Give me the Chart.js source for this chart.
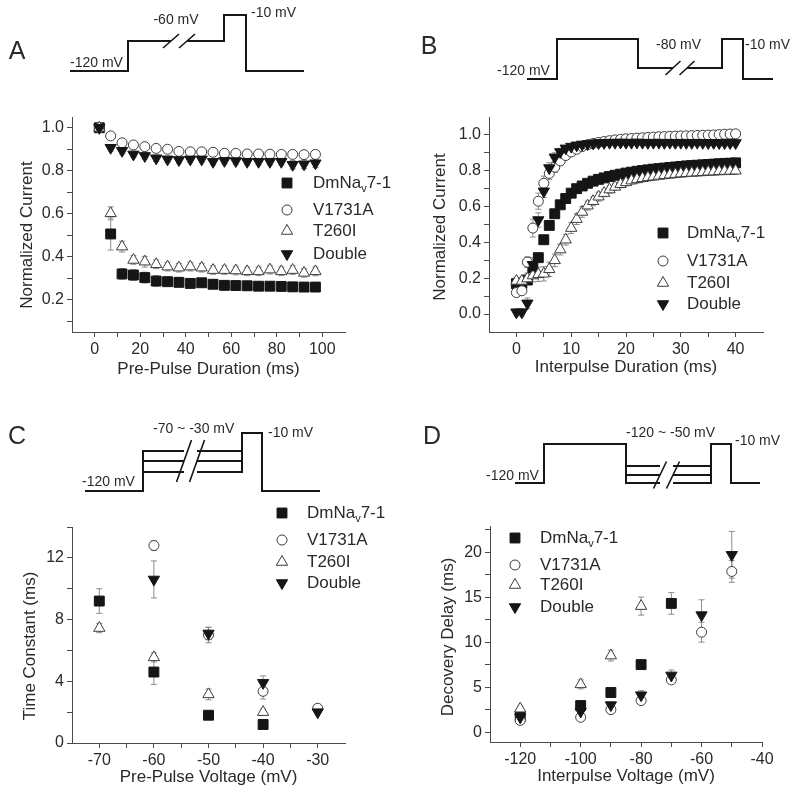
<!DOCTYPE html>
<html>
<head>
<meta charset="utf-8">
<script src="https://cdn.jsdelivr.net/npm/chart.js@4.4.1/dist/chart.umd.min.js"></script>
<style>
  body { margin: 0; background: #fff; }
  #fig { position: relative; width: 800px; height: 795px; overflow: hidden; }
  canvas { position: absolute; }
</style>
</head>
<body>
<div id="fig">
  <canvas id="cA" width="400" height="400" style="left:0;top:0"></canvas>
  <canvas id="cB" width="400" height="400" style="left:400px;top:0"></canvas>
  <canvas id="cC" width="400" height="395" style="left:0;top:400px"></canvas>
  <canvas id="cD" width="400" height="395" style="left:400px;top:400px"></canvas>
  <canvas id="pA" width="400" height="110" style="left:0;top:0"></canvas>
  <canvas id="pB" width="400" height="110" style="left:400px;top:0"></canvas>
  <canvas id="pC" width="400" height="110" style="left:0;top:400px"></canvas>
  <canvas id="pD" width="400" height="110" style="left:400px;top:400px"></canvas>
</div>
<script>
// --- DATA ---
const SERIES = ["DmNa_{v}7-1", "V1731A", "T260I", "Double"];

// A: pre-pulse duration (ms) vs normalized current
const aDur = [2, 7, 12, 17, 22, 27, 32, 37, 42, 47, 52, 57, 62, 67, 72, 77, 82, 87, 92, 97];
const aWT = [1.0, 0.506, 0.32, 0.315, 0.303, 0.287, 0.284, 0.281, 0.276, 0.279, 0.272, 0.267, 0.266, 0.265, 0.263, 0.263, 0.262, 0.26, 0.259, 0.259];
const aV = [1.0, 0.962, 0.93, 0.92, 0.912, 0.904, 0.9, 0.89, 0.888, 0.888, 0.886, 0.881, 0.881, 0.878, 0.878, 0.877, 0.876, 0.876, 0.875, 0.876];
const aT = [1.0, 0.602, 0.447, 0.385, 0.377, 0.365, 0.354, 0.349, 0.354, 0.349, 0.338, 0.338, 0.336, 0.332, 0.332, 0.34, 0.332, 0.338, 0.325, 0.332];
const aD = [1.0, 0.907, 0.893, 0.876, 0.869, 0.858, 0.853, 0.85, 0.853, 0.853, 0.842, 0.846, 0.845, 0.842, 0.842, 0.842, 0.842, 0.828, 0.83, 0.835];
const aWTe = [0, 0.075, 0.025, 0.025, 0.025, 0.025, 0.02, 0.02, 0.02, 0.02, 0.02, 0.02, 0.02, 0.02, 0.02, 0.02, 0.02, 0.02, 0.02, 0.02];
const aVe = [0, 0.01, 0.01, 0.01, 0.01, 0.01, 0.01, 0.01, 0.01, 0.01, 0.01, 0.01, 0.01, 0.01, 0.01, 0.01, 0.01, 0.01, 0.01, 0.01];
const aTe = [0, 0.03, 0.025, 0.02, 0.025, 0.02, 0.02, 0.02, 0.02, 0.02, 0.02, 0.02, 0.02, 0.02, 0.02, 0.02, 0.02, 0.02, 0.02, 0.02];
const aDe = [0, 0.015, 0.015, 0.015, 0.015, 0.015, 0.015, 0.015, 0.015, 0.015, 0.015, 0.015, 0.015, 0.015, 0.015, 0.015, 0.015, 0.02, 0.02, 0.02];

// B: interpulse duration (ms) vs normalized current
const bDur = [0, 1, 2, 3, 4, 5, 6, 7, 8, 9, 10, 11, 12, 13, 14, 15, 16, 17, 18, 19, 20, 21, 22, 23, 24, 25, 26, 27, 28, 29, 30, 31, 32, 33, 34, 35, 36, 37, 38, 39, 40];
const bWT = [0.17, 0.17, 0.19, 0.26, 0.315, 0.415, 0.495, 0.56, 0.61, 0.645, 0.675, 0.70, 0.715, 0.73, 0.742, 0.752, 0.76, 0.768, 0.775, 0.781, 0.787, 0.792, 0.797, 0.801, 0.805, 0.809, 0.812, 0.815, 0.818, 0.821, 0.824, 0.827, 0.829, 0.831, 0.833, 0.835, 0.837, 0.839, 0.841, 0.842, 0.844];
const bV = [0.12, 0.13, 0.29, 0.48, 0.63, 0.73, 0.785, 0.82, 0.855, 0.885, 0.905, 0.92, 0.935, 0.945, 0.952, 0.958, 0.963, 0.968, 0.972, 0.975, 0.978, 0.98, 0.982, 0.984, 0.986, 0.988, 0.99, 0.991, 0.992, 0.993, 0.994, 0.995, 0.996, 0.997, 0.998, 0.999, 1.0, 1.002, 1.004, 1.005, 1.006];
const bT = [0.185, 0.185, 0.198, 0.215, 0.222, 0.225, 0.25, 0.30, 0.36, 0.415, 0.48, 0.53, 0.57, 0.605, 0.63, 0.655, 0.675, 0.695, 0.71, 0.725, 0.735, 0.745, 0.752, 0.758, 0.763, 0.767, 0.771, 0.775, 0.778, 0.781, 0.784, 0.786, 0.788, 0.79, 0.792, 0.794, 0.795, 0.797, 0.798, 0.799, 0.80];
const bD = [0.01, 0.01, 0.06, 0.275, 0.525, 0.685, 0.815, 0.875, 0.905, 0.925, 0.935, 0.942, 0.947, 0.95, 0.953, 0.955, 0.956, 0.957, 0.957, 0.958, 0.957, 0.957, 0.958, 0.957, 0.956, 0.957, 0.957, 0.956, 0.957, 0.956, 0.957, 0.956, 0.956, 0.957, 0.956, 0.955, 0.956, 0.955, 0.955, 0.955, 0.955];
const bWTe = [0.01, 0.01, 0.02, 0.02, 0.02, 0.02, 0.02, 0.02, 0.02, 0.02, 0.015, 0.015, 0.015, 0.015, 0.015, 0.015, 0.015, 0.015, 0.015, 0.015, 0.015, 0.015, 0.015, 0.015, 0.015, 0.015, 0.015, 0.015, 0.015, 0.015, 0.015, 0.015, 0.015, 0.015, 0.015, 0.015, 0.015, 0.015, 0.015, 0.015, 0.015];
const bVe = [0.02, 0.02, 0.03, 0.05, 0.045, 0.04, 0.035, 0.03, 0.025, 0.02, 0.02, 0.015, 0.015, 0.015, 0.015, 0.015, 0.015, 0.015, 0.015, 0.015, 0.015, 0.015, 0.015, 0.015, 0.015, 0.015, 0.015, 0.015, 0.015, 0.015, 0.015, 0.015, 0.015, 0.015, 0.015, 0.015, 0.015, 0.015, 0.015, 0.015, 0.015];
const bTe = [0.02, 0.02, 0.03, 0.035, 0.04, 0.04, 0.04, 0.035, 0.03, 0.03, 0.03, 0.03, 0.03, 0.025, 0.025, 0.025, 0.02, 0.02, 0.02, 0.02, 0.02, 0.02, 0.02, 0.02, 0.02, 0.02, 0.02, 0.02, 0.02, 0.02, 0.02, 0.02, 0.02, 0.02, 0.02, 0.02, 0.02, 0.02, 0.02, 0.02, 0.02];
const bDe = [0.02, 0.02, 0.03, 0.04, 0.04, 0.035, 0.03, 0.025, 0.02, 0.015, 0.015, 0.015, 0.015, 0.015, 0.015, 0.015, 0.015, 0.015, 0.015, 0.015, 0.015, 0.015, 0.015, 0.015, 0.015, 0.015, 0.015, 0.015, 0.015, 0.015, 0.015, 0.015, 0.015, 0.015, 0.015, 0.015, 0.015, 0.015, 0.015, 0.015, 0.015];

// C: pre-pulse voltage (mV) vs time constant (ms)
const cWTx = [-70, -60, -50, -40], cWT = [9.2, 4.6, 1.8, 1.2], cWTe = [0.8, 0.8, 0.15, 0.1];
const cVx = [-60, -50, -40, -30], cV = [12.8, 7.0, 3.35, 2.25], cVe = [0.3, 0.5, 0.5, 0.15];
const cTx = [-70, -60, -50, -40], cT = [7.45, 5.55, 3.15, 2.0], cTe = [0.3, 0.3, 0.35, 0.2];
const cDx = [-60, -50, -40, -30], cD = [10.6, 7.1, 3.9, 2.0], cDe = [1.2, 0.4, 0.45, 0.15];

// D: interpulse voltage (mV) vs decovery delay (ms)
const dWTx = [-120, -100, -90, -80, -70], dWT = [1.75, 2.95, 4.4, 7.5, 14.3], dWTe = [0.2, 0.3, 0.3, 0.3, 1.2];
const dVx = [-120, -100, -90, -80, -70, -60, -50], dV = [1.3, 1.65, 2.5, 3.5, 5.8, 11.1, 17.85], dVe = [0.2, 0.2, 0.3, 0.3, 0.4, 1.1, 1.2];
const dTx = [-120, -100, -90, -80], dT = [2.6, 5.3, 8.5, 14.0], dTe = [0.3, 0.5, 0.6, 1.0];
const dDx = [-120, -100, -90, -80, -70, -60, -50], dD = [1.65, 2.3, 3.0, 4.1, 6.3, 13.0, 19.7], dDe = [0.2, 0.3, 0.3, 0.5, 0.6, 1.7, 2.6];

// tick values (minor + major) and labelled ones
const aXt = [0, 10, 20, 30, 40, 50, 60, 70, 80, 90, 100], aXm = [0, 20, 40, 60, 80, 100];
const aYt = [0.1, 0.2, 0.3, 0.4, 0.5, 0.6, 0.7, 0.8, 0.9, 1.0], aYm = [0.2, 0.4, 0.6, 0.8, 1.0];
const bXt = [0, 5, 10, 15, 20, 25, 30, 35, 40], bXm = [0, 10, 20, 30, 40];
const bYt = [0, 0.1, 0.2, 0.3, 0.4, 0.5, 0.6, 0.7, 0.8, 0.9, 1.0], bYm = [0, 0.2, 0.4, 0.6, 0.8, 1.0];
const cXt = [-70, -65, -60, -55, -50, -45, -40, -35, -30], cXm = [-70, -60, -50, -40, -30];
const cYt = [0, 2, 4, 6, 8, 10, 12, 14], cYm = [0, 4, 8, 12];
const dXt = [-120, -110, -100, -90, -80, -70, -60, -50, -40], dXm = [-120, -100, -80, -60, -40];
const dYt = [0, 2.5, 5, 7.5, 10, 12.5, 15, 17.5, 20, 22.5], dYm = [0, 5, 10, 15, 20];

// voltage protocols (schematic time units / schematic step levels)
const protoA = [{ t: [0, 29, 29, 50.5, 54.5, 58.5, 77, 77, 88, 88, 117], lv: [0, 0, 30, 30, null, 30, 30, 56, 56, 0, 0] }];
const protoB = [{ t: [0, 15, 15, 55.5, 55.5, 73, 76.5, 80, 97.5, 97.5, 108, 108, 123], lv: [0, 0, 40, 40, 11, 11, null, 11, 11, 40, 40, 0, 0] }];
const protoC = [
  { t: [0, 29, 29, 49.5, 52.75, 56, 78.5, 78.5, 88.5, 88.5, 117.5], lv: [0, 0, 40, 40, null, 40, 40, 58, 58, 0, 0] },
  { t: [29, 49.5, 52.75, 56, 78.5], lv: [30, 30, null, 30, 30] },
  { t: [29, 49.5, 52.75, 56, 78.5, 78.5], lv: [19, 19, null, 19, 19, 40] },
];
const protoD = [
  { t: [0, 14.5, 14.5, 55.5, 55.5, 72.5, 75.75, 79, 98, 98, 108, 108, 122.5], lv: [0, 0, 39, 39, 0, 0, null, 0, 0, 39, 39, 0, 0] },
  { t: [55.5, 72.5, 75.75, 79, 98], lv: [17, 17, null, 17, 17] },
  { t: [55.5, 72.5, 75.75, 79, 98], lv: [8, 8, null, 8, 8] },
];

// --- STYLE ---
const FONT = '"Liberation Sans", Arial, sans-serif';
const INK = "#2a2a2a";
const AXIS = "#4a4a4a";
const MARKS = [
  { pointStyle: "rect", pointRadius: 7, pointRotation: 0, pointBackgroundColor: "#151515", pointBorderColor: "#151515", pointBorderWidth: 1, order: 3 },
  { pointStyle: "circle", pointRadius: 5, pointRotation: 0, pointBackgroundColor: "#fff", pointBorderColor: "#3c3c3c", pointBorderWidth: 1, order: 2 },
  { pointStyle: "triangle", pointRadius: 6.5, pointRotation: 0, pointBackgroundColor: "#fff", pointBorderColor: "#3c3c3c", pointBorderWidth: 1, order: 1 },
  { pointStyle: "triangle", pointRadius: 6.5, pointRotation: 180, pointBackgroundColor: "#151515", pointBorderColor: "#151515", pointBorderWidth: 1, order: 0 },
];

// text with _{sub} parts
function richText(ctx, text, x, y, size) {
  const parts = text.split(/_\{(.*?)\}/);
  ctx.fillStyle = INK;
  ctx.textAlign = "left";
  ctx.textBaseline = "middle";
  parts.forEach((p, i) => {
    if (!p) return;
    const sub = i % 2 === 1;
    ctx.font = (sub ? Math.round(size * 0.65) : size) + "px " + FONT;
    ctx.fillText(p, x, sub ? y + size * 0.38 : y);
    x += ctx.measureText(p).width;
  });
}

// --- PLUGINS ---
const errorBars = {
  id: "errorBars",
  beforeDatasetsDraw(chart) {
    const { ctx, scales: { x, y } } = chart;
    ctx.save();
    ctx.strokeStyle = "#8c8c8c";
    ctx.lineWidth = 1;
    chart.data.datasets.forEach((ds) => {
      ds.data.forEach((p, i) => {
        const e = ds.err[i];
        if (!e) return;
        const px = x.getPixelForValue(p.x);
        const top = y.getPixelForValue(p.y + e);
        const bot = y.getPixelForValue(p.y - e);
        ctx.beginPath();
        ctx.moveTo(px, top); ctx.lineTo(px, bot);
        ctx.moveTo(px - 3, top); ctx.lineTo(px + 3, top);
        ctx.moveTo(px - 3, bot); ctx.lineTo(px + 3, bot);
        ctx.stroke();
      });
    });
    ctx.restore();
  },
};

const markLegend = {
  id: "markLegend",
  afterDraw(chart, args, o) {
    const ctx = chart.ctx;
    chart.data.datasets.forEach((ds, i) => {
      const y = o.rows[i];
      ctx.save();
      ctx.fillStyle = ds.pointBackgroundColor;
      ctx.strokeStyle = ds.pointBorderColor;
      ctx.lineWidth = ds.pointBorderWidth;
      Chart.helpers.drawPoint(ctx, { pointStyle: ds.pointStyle, rotation: ds.pointRotation, radius: ds.pointRadius, borderWidth: ds.pointBorderWidth }, o.markX, y);
      ctx.restore();
      ctx.save();
      richText(ctx, ds.label, o.textX, y, 17);
      ctx.restore();
    });
  },
};

const yTitle = {
  id: "yTitle",
  afterDraw(chart, args, o) {
    const ctx = chart.ctx;
    ctx.save();
    ctx.translate(o.x, o.y);
    ctx.rotate(-Math.PI / 2);
    ctx.font = "17px " + FONT;
    ctx.fillStyle = INK;
    ctx.textAlign = "center";
    ctx.textBaseline = "middle";
    ctx.fillText(o.text, 0, 0);
    ctx.restore();
  },
};

const protoDecor = {
  id: "protoDecor",
  afterDraw(chart, args, o) {
    const { ctx, scales: { x, y } } = chart;
    ctx.save();
    ctx.fillStyle = INK;
    ctx.textBaseline = "middle";
    ctx.font = "14px " + FONT;
    o.labels.forEach((l) => {
      ctx.textAlign = l.align;
      ctx.fillText(l.text, x.getPixelForValue(l.t), y.getPixelForValue(l.lv));
    });
    ctx.strokeStyle = "#161616";
    ctx.lineWidth = 1.6;
    o.breaks.forEach((t) => {
      const px = x.getPixelForValue(t), py = y.getPixelForValue(o.breakLv);
      ctx.beginPath();
      ctx.moveTo(px - o.slash[0], py + o.slash[1]);
      ctx.lineTo(px + o.slash[0], py - o.slash[1]);
      ctx.stroke();
    });
    ctx.font = "25px " + FONT;
    ctx.textAlign = "center";
    ctx.fillText(o.letter, o.letterAt[0], o.letterAt[1]);
    ctx.restore();
  },
};

// --- CHART BUILDERS ---
function axis(a, vertical) {
  return {
    type: "linear",
    min: a.min,
    max: a.max,
    afterBuildTicks: (s) => { s.ticks = a.ticks.map((v) => ({ value: v })); },
    afterFit: (s) => { if (vertical) s.width = a.size; else s.height = a.size; },
    ticks: {
      autoSkip: false, maxRotation: 0, minRotation: 0, padding: 3, color: INK,
      font: { family: FONT, size: 16 },
      callback: (v) => (a.major.includes(v) ? (a.dec ? v.toFixed(a.dec) : String(v)) : ""),
    },
    grid: { drawOnChartArea: false, tickLength: 5, color: AXIS },
    border: { color: AXIS, width: 1 },
    title: vertical
      ? { display: false }
      : { display: true, text: a.title, color: INK, font: { family: FONT, size: 17 }, padding: { top: 0, bottom: a.titlePad } },
  };
}

function panel(id, p) {
  const datasets = p.series.map((s, i) => Object.assign({
    label: SERIES[i],
    data: s[0].map((x, k) => ({ x: x, y: s[1][k] })),
    err: s[2],
  }, MARKS[i]));
  return new Chart(document.getElementById(id), {
    type: "scatter",
    data: { datasets: datasets },
    options: {
      responsive: false, animation: false, devicePixelRatio: 1,
      layout: { autoPadding: false, padding: p.pad },
      plugins: {
        legend: { display: false },
        tooltip: { enabled: false },
        markLegend: p.legend,
        yTitle: p.yTitle,
      },
      scales: { x: axis(p.x, false), y: axis(p.y, true) },
    },
    plugins: [errorBars, markLegend, yTitle],
  });
}

function protocol(id, p) {
  return new Chart(document.getElementById(id), {
    type: "line",
    data: {
      datasets: p.lines.map((l) => ({
        data: l.t.map((t, k) => ({ x: t, y: l.lv[k] })),
        borderColor: "#161616", borderWidth: 2, pointRadius: 0, fill: false,
        tension: 0, clip: false, spanGaps: false, borderJoinStyle: "miter", borderCapStyle: "butt",
      })),
    },
    options: {
      responsive: false, animation: false, devicePixelRatio: 1,
      layout: { autoPadding: false, padding: p.pad },
      plugins: { legend: { display: false }, tooltip: { enabled: false }, protoDecor: p.decor },
      scales: {
        x: { type: "linear", display: false, min: 0, max: p.tMax },
        y: { type: "linear", display: false, min: 0, max: p.lvMax },
      },
    },
    plugins: [protoDecor],
  });
}

// --- PANELS ---
panel("cA", {
  series: [[aDur, aWT, aWTe], [aDur, aV, aVe], [aDur, aT, aTe], [aDur, aD, aDe]],
  pad: { left: 0, top: 117, right: 55, bottom: 0 },
  x: { min: -10, max: 110, ticks: aXt, major: aXm, size: 68, title: "Pre-Pulse Duration (ms)", titlePad: 20 },
  y: { min: 0.05, max: 1.05, ticks: aYt, major: aYm, dec: 1, size: 72 },
  yTitle: { text: "Normalized Current", x: 27, y: 235 },
  legend: { markX: 287, textX: 313, rows: [183, 210, 231, 254] },
});

panel("cB", {
  series: [[bDur, bWT, bWTe], [bDur, bV, bVe], [bDur, bT, bTe], [bDur, bD, bDe]],
  pad: { left: 0, top: 117, right: 37, bottom: 0 },
  x: { min: -5, max: 45, ticks: bXt, major: bXm, size: 68, title: "Interpulse Duration (ms)", titlePad: 22 },
  y: { min: -0.1, max: 1.1, ticks: bYt, major: bYm, dec: 1, size: 89 },
  yTitle: { text: "Normalized Current", x: 40, y: 227 },
  legend: { markX: 263, textX: 287, rows: [233, 261, 283, 304] },
});

panel("cC", {
  series: [[cWTx, cWT, cWTe], [cVx, cV, cVe], [cTx, cT, cTe], [cDx, cD, cDe]],
  pad: { left: 0, top: 127, right: 55, bottom: 0 },
  x: { min: -75, max: -25, ticks: cXt, major: cXm, size: 52, title: "Pre-Pulse Voltage (mV)", titlePad: 7 },
  y: { min: 0, max: 14, ticks: cYt, major: cYm, size: 72 },
  yTitle: { text: "Time Constant (ms)", x: 30, y: 246 },
  legend: { markX: 282, textX: 307, rows: [113, 140, 162, 183] },
});

panel("cD", {
  series: [[dWTx, dWT, dWTe], [dVx, dV, dVe], [dTx, dT, dTe], [dDx, dD, dDe]],
  pad: { left: 0, top: 126, right: 38, bottom: 0 },
  x: { min: -130, max: -40, ticks: dXt, major: dXm, size: 53, title: "Interpulse Voltage (mV)", titlePad: 8 },
  y: { min: -1.1, max: 22.9, ticks: dYt, major: dYm, size: 90 },
  yTitle: { text: "Decovery Delay (ms)", x: 48, y: 237 },
  legend: { markX: 115, textX: 140, rows: [138, 165, 185, 207] },
});

// --- PROTOCOL SKETCHES ---
protocol("pA", {
  lines: protoA, tMax: 117, lvMax: 56,
  pad: { left: 70, right: 96, top: 15, bottom: 39 },
  decor: {
    labels: [
      { text: "-120 mV", t: 0, lv: 8, align: "left" },
      { text: "-60 mV", t: 53, lv: 51, align: "center" },
      { text: "-10 mV", t: 90.5, lv: 58, align: "left" },
    ],
    breaks: [50.5, 58.5], breakLv: 30, slash: [8, 7], letter: "A", letterAt: [17, 52],
  },
});

protocol("pB", {
  lines: protoB, tMax: 123, lvMax: 40,
  pad: { left: 127, right: 27, top: 39, bottom: 31 },
  decor: {
    labels: [
      { text: "-120 mV", t: -15, lv: 8, align: "left" },
      { text: "-80 mV", t: 64.5, lv: 34, align: "left" },
      { text: "-10 mV", t: 109, lv: 34, align: "left" },
    ],
    breaks: [73, 80], breakLv: 11, slash: [7.5, 7], letter: "B", letterAt: [29, 47],
  },
});

protocol("pC", {
  lines: protoC, tMax: 117.5, lvMax: 58,
  pad: { left: 85, right: 80, top: 33, bottom: 19 },
  decor: {
    labels: [
      { text: "-120 mV", t: -1.5, lv: 9, align: "left" },
      { text: "-70 ~ -30 mV", t: 34, lv: 62, align: "left" },
      { text: "-10 mV", t: 91.5, lv: 58, align: "left" },
    ],
    breaks: [49.5, 56], breakLv: 30, slash: [7.5, 21], letter: "C", letterAt: [17, 37],
  },
});

protocol("pD", {
  lines: protoD, tMax: 122.5, lvMax: 39,
  pad: { left: 115, right: 40, top: 44, bottom: 27 },
  decor: {
    labels: [
      { text: "-120 mV", t: -14.5, lv: 7, align: "left" },
      { text: "-120 ~ -50 mV", t: 55.5, lv: 50, align: "left" },
      { text: "-10 mV", t: 110, lv: 42, align: "left" },
    ],
    breaks: [72.5, 79], breakLv: 8, slash: [6.5, 13.5], letter: "D", letterAt: [32, 37],
  },
});
</script>
</body>
</html>
